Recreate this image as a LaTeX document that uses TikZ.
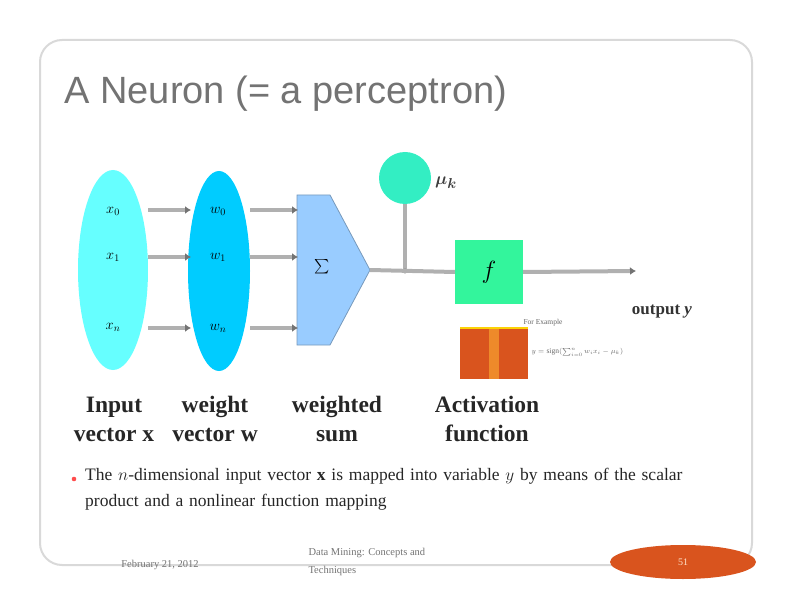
\documentclass[tikz,border=0pt]{standalone}
\usepackage{amsmath,bm}
\usepackage{fontspec}
\setmainfont{Liberation Serif}
\newfontfamily\titlefont{Liberation Sans}
\usetikzlibrary{shapes.geometric,arrows.meta}
\definecolor{inpcol}{HTML}{66FFFF}
\definecolor{wcol}{HTML}{00CCFF}
\definecolor{sumcol}{HTML}{99CCFF}
\definecolor{sumedge}{HTML}{7799BB}
\definecolor{biascol}{HTML}{33EEC3}
\definecolor{fcol}{HTML}{33F59C}
\definecolor{orangecol}{HTML}{D9541E}
\definecolor{lightorange}{HTML}{EE8A2A}
\definecolor{wire}{HTML}{B0B0B0}
\begin{document}
\begin{tikzpicture}[x=1pt,y=-1pt,
  vec/.style={ellipse, minimum width=70pt, minimum height=200pt, inner sep=0pt},
  comp/.style={font=\fontsize{14}{16}\selectfont},
  conn/.style={draw=wire, line width=4pt, -{Latex[length=6pt,width=8pt,color=black!55]}},
  plainwire/.style={draw=wire, line width=4pt},
  lab/.style={font=\bfseries\fontsize{23.5}{29}\selectfont, align=center, text=black!85},
  foot/.style={font=\fontsize{10.5}{19}\selectfont, text=black!55}]
\useasboundingbox (0,0) rectangle (792,612);
% slide frame
\draw[draw=black!15, line width=2pt, rounded corners=22pt] (40,40) rectangle (752,565);
% title
\node[anchor=west, text=black!55, font=\titlefont\fontsize{38}{44}\selectfont] (title) at (61,94) {A Neuron (= a perceptron)};
% vectors
\node[vec, fill=inpcol] (inp) at (113,270) {};
\node[vec, fill=wcol, minimum width=62pt] (wvec) at (219,271) {};
\node[comp] (x0) at (113,211) {$x_0$};
\node[comp] (x1) at (113,257) {$x_1$};
\node[comp] (xn) at (113,327) {$x_n$};
\node[comp] (w0) at (218,211) {$w_0$};
\node[comp] (w1) at (218,257) {$w_1$};
\node[comp] (wn) at (218,328) {$w_n$};
% weighted sum shape
\coordinate (s1) at (297,195);
\coordinate (s2) at (330,195);
\coordinate (sapex) at (370,270);
\coordinate (s4) at (330,345);
\coordinate (s5) at (297,345);
\draw[fill=sumcol, draw=sumedge, line width=0.8pt] (s1) -- (s2) -- (sapex) -- (s4) -- (s5) -- cycle;
\node[font=\fontsize{15}{17}\selectfont] (sigma) at (322,267) {$\textstyle\sum$};
% connectors into weights and sum
\foreach \yy/\nm in {210/a,257/b,328/c}{
  \coordinate (L\nm) at (148,\yy);
  \coordinate (M\nm) at (191,\yy);
  \coordinate (N\nm) at (250,\yy);
  \coordinate (S\nm) at (298,\yy);
  \draw[conn] (L\nm) -- (M\nm);
  \draw[conn] (N\nm) -- (S\nm);
}
% bias
\node[circle, fill=biascol, minimum size=52pt, inner sep=0pt] (bias) at (405,178) {};
\node[font=\fontsize{19}{20}\selectfont, text=black!75] (mu) at (446,183) {$\bm{\mu}_{\bm{k}}$};
\coordinate (junc) at (405,271);
\draw[plainwire] (bias.south) -- (junc);
\fill[black!50] (junc) circle (2.5pt);
% activation
\node[fill=fcol, minimum width=68pt, minimum height=64pt, inner sep=0pt, font=\fontsize{32}{34}\selectfont] (f) at (489,272) {$f$};
\coordinate (outend) at (636,271);
\draw[plainwire] (sapex) -- (f.west);
\draw[conn] (f.east) -- (outend);
\node[font=\bfseries\fontsize{17}{18}\selectfont, text=black!80] (out) at (662,312) {output \textit{y}};
% example box
\node[fill=orangecol, minimum width=68pt, minimum height=50pt, inner sep=0pt] (ex) at (494,354) {};
\fill[lightorange] ([xshift=-5pt]ex.north) rectangle ([xshift=5pt]ex.south);
\fill[yellow!70!orange] (ex.north west) rectangle ([yshift=2pt]ex.north east);
\node[font=\fontsize{7.5}{8}\selectfont, text=black!60] (forex) at (543,323) {For Example};
\node[anchor=west, font=\fontsize{7.5}{8}\selectfont, text=black!60] (formula) at (528,352) {$y=\mathrm{sign}(\sum_{i=0}^{n} w_i x_i - \mu_k)$};
% labels
\node[lab] (linp) at (114,419) {Input\\vector \textbf{x}};
\node[lab] (lw) at (215,419) {weight\\vector \textbf{w}};
\node[lab] (lsum) at (337,419) {weighted\\sum};
\node[lab] (lact) at (487,419) {Activation\\function};
% bullet
\fill[red!70] (74,479) circle (2.3pt);
\node[anchor=north west, text width=625pt, align=left, font=\fontsize{17.5}{26}\selectfont, text=black!85, inner sep=0pt] (bullet) at (85,468) {The $n$-dimensional input vector \textbf{x} is mapped into variable $y$ by means of the scalar product and a nonlinear function mapping};
% footer
\node[foot] (date) at (160,565) {February 21, 2012};
\node[foot, anchor=west, align=left, font=\fontsize{10.5}{18}\selectfont] (book) at (305,562) {Data Mining: Concepts and\\Techniques};
\node[ellipse, fill=orangecol, minimum width=146pt, minimum height=34pt, inner sep=0pt, text=white!80!orange, font=\fontsize{10}{12}\selectfont] (page) at (683,562) {51};
\end{tikzpicture}
\end{document}
